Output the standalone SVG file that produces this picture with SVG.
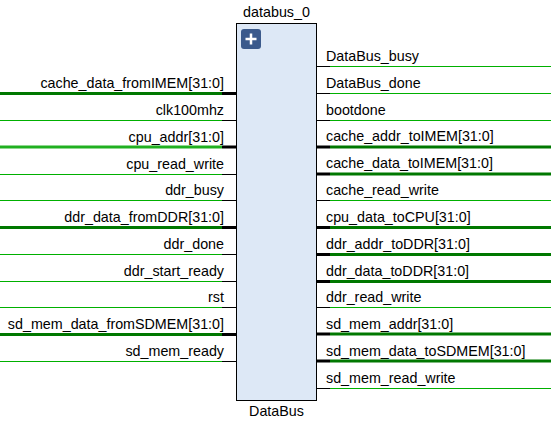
<svg xmlns="http://www.w3.org/2000/svg" width="551" height="423" viewBox="0 0 551 423">
<style>
text{font-family:"Liberation Sans",Arial,sans-serif;font-size:14.3px;fill:#000}
.l{text-anchor:end}
.s{stroke:#00b000;stroke-width:1;fill:none}
.b{stroke:#007800;stroke-width:3;fill:none}
.b2{stroke:#20b020;stroke-width:3;fill:none}
.ks{stroke:#000;stroke-width:1;fill:none}
.kb{stroke:#000;stroke-width:3;fill:none}
</style>
<rect width="551" height="423" fill="#fff"/>
<g id="connectors">
<!-- left -->
<line class="b" x1="0" y1="93.5" x2="222" y2="93.5"/><line class="kb" x1="222" y1="93.5" x2="250" y2="93.5"/>
<line class="s" x1="0" y1="120.5" x2="222" y2="120.5"/><line class="ks" x1="222" y1="120.5" x2="250" y2="120.5"/>
<line class="b2" x1="0" y1="147" x2="222" y2="147"/><line class="kb" x1="222" y1="147" x2="250" y2="147"/>
<line class="s" x1="0" y1="174.5" x2="222" y2="174.5"/><line class="ks" x1="222" y1="174.5" x2="250" y2="174.5"/>
<line class="s" x1="0" y1="200.5" x2="222" y2="200.5"/><line class="ks" x1="222" y1="200.5" x2="250" y2="200.5"/>
<line class="b" x1="0" y1="227.5" x2="222" y2="227.5"/><line class="kb" x1="222" y1="227.5" x2="250" y2="227.5"/>
<line class="s" x1="0" y1="254.5" x2="222" y2="254.5"/><line class="ks" x1="222" y1="254.5" x2="250" y2="254.5"/>
<line class="s" x1="0" y1="281.5" x2="222" y2="281.5"/><line class="ks" x1="222" y1="281.5" x2="250" y2="281.5"/>
<line class="s" x1="0" y1="307.5" x2="222" y2="307.5"/><line class="ks" x1="222" y1="307.5" x2="250" y2="307.5"/>
<line class="b" x1="0" y1="334.5" x2="222" y2="334.5"/><line class="kb" x1="222" y1="334.5" x2="250" y2="334.5"/>
<line class="s" x1="0" y1="361.5" x2="222" y2="361.5"/><line class="ks" x1="222" y1="361.5" x2="250" y2="361.5"/>
<!-- right -->
<line class="ks" x1="303" y1="66.5" x2="330" y2="66.5"/><line class="s" x1="330" y1="66.5" x2="551" y2="66.5"/>
<line class="ks" x1="303" y1="93.5" x2="330" y2="93.5"/><line class="s" x1="330" y1="93.5" x2="551" y2="93.5"/>
<line class="ks" x1="303" y1="120.5" x2="330" y2="120.5"/><line class="s" x1="330" y1="120.5" x2="551" y2="120.5"/>
<line class="kb" x1="303" y1="147" x2="330" y2="147"/><line class="b" x1="330" y1="147" x2="551" y2="147"/>
<line class="kb" x1="303" y1="174" x2="330" y2="174"/><line class="b" x1="330" y1="174" x2="551" y2="174"/>
<line class="ks" x1="303" y1="200.5" x2="330" y2="200.5"/><line class="s" x1="330" y1="200.5" x2="551" y2="200.5"/>
<line class="kb" x1="303" y1="227.5" x2="330" y2="227.5"/><line class="b" x1="330" y1="227.5" x2="551" y2="227.5"/>
<line class="kb" x1="303" y1="254.5" x2="330" y2="254.5"/><line class="b" x1="330" y1="254.5" x2="551" y2="254.5"/>
<line class="kb" x1="303" y1="281.5" x2="330" y2="281.5"/><line class="b" x1="330" y1="281.5" x2="551" y2="281.5"/>
<line class="ks" x1="303" y1="307.5" x2="330" y2="307.5"/><line class="s" x1="330" y1="307.5" x2="551" y2="307.5"/>
<line class="kb" x1="303" y1="334" x2="330" y2="334"/><line class="b" x1="330" y1="334" x2="551" y2="334"/>
<line class="kb" x1="303" y1="361" x2="330" y2="361"/><line class="b" x1="330" y1="361" x2="551" y2="361"/>
<line class="ks" x1="303" y1="388.5" x2="330" y2="388.5"/><line class="s" x1="330" y1="388.5" x2="551" y2="388.5"/>
</g>
<g id="databus_0">
<rect x="236.5" y="23.5" width="80" height="377" fill="#dde8f6" stroke="#000" stroke-width="1"/>
<g id="expand">
<rect x="241" y="29" width="20" height="20" rx="3" fill="#3b5a8c"/>
<path d="M251 33.5v11M245.5 39h11" stroke="#fff" stroke-width="2.5"/>
</g>
<text x="276.5" y="17" text-anchor="middle">databus_0</text>
<text x="276.5" y="416" text-anchor="middle">DataBus</text>
<!-- left labels -->
<text class="l" x="224" y="88">cache_data_fromIMEM[31:0]</text>
<text class="l" x="224" y="115">clk100mhz</text>
<text class="l" x="224" y="142">cpu_addr[31:0]</text>
<text class="l" x="224" y="169">cpu_read_write</text>
<text class="l" x="224" y="195">ddr_busy</text>
<text class="l" x="224" y="222">ddr_data_fromDDR[31:0]</text>
<text class="l" x="224" y="249">ddr_done</text>
<text class="l" x="224" y="276">ddr_start_ready</text>
<text class="l" x="224" y="302">rst</text>
<text class="l" x="224" y="329">sd_mem_data_fromSDMEM[31:0]</text>
<text class="l" x="224" y="356">sd_mem_ready</text>
<!-- right labels -->
<text x="326" y="61">DataBus_busy</text>
<text x="326" y="88">DataBus_done</text>
<text x="326" y="115">bootdone</text>
<text x="326" y="141">cache_addr_toIMEM[31:0]</text>
<text x="326" y="168">cache_data_toIMEM[31:0]</text>
<text x="326" y="195">cache_read_write</text>
<text x="326" y="222">cpu_data_toCPU[31:0]</text>
<text x="326" y="249">ddr_addr_toDDR[31:0]</text>
<text x="326" y="276">ddr_data_toDDR[31:0]</text>
<text x="326" y="302">ddr_read_write</text>
<text x="326" y="329">sd_mem_addr[31:0]</text>
<text x="326" y="356">sd_mem_data_toSDMEM[31:0]</text>
<text x="326" y="383">sd_mem_read_write</text>
</g>
</svg>
